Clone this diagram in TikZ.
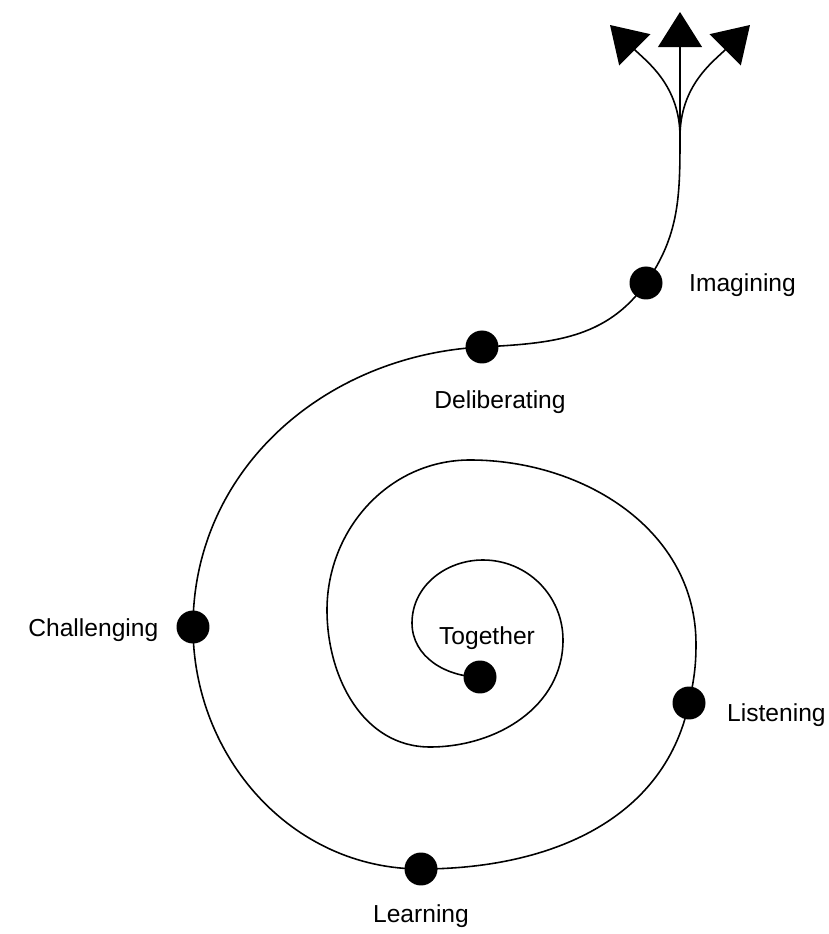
\documentclass[tikz,border=0pt]{standalone}
\usepackage{fontspec}
\setmainfont{Liberation Sans}
\usetikzlibrary{arrows.meta,positioning}
\tikzset{
  dot/.style={circle,fill=black,inner sep=0pt,minimum size=0.66cm},
  lbl/.style={inner sep=0pt,font=\fontsize{14}{16}\selectfont},
  spiral/.style={line width=0.9pt},
  bigtip/.style={-{Triangle[width=25pt,length=20pt]}}
}
\begin{document}
\begin{tikzpicture}[x=0.02cm,y=0.02cm]
  \useasboundingbox (0,0) rectangle (829,934);
  % dots on the spiral
  \node [dot] (together) at (480,257) {};
  \node [dot] (listen) at (689,231) {};
  \node [dot] (learn) at (421,65) {};
  \node [dot] (chall) at (193,307) {};
  \node [dot] (delib) at (482,587) {};
  \node [dot] (imag) at (646,651) {};
  % turning points of the inner rings
  \coordinate (w1) at (412,311);
  \coordinate (w2) at (483,374);
  \coordinate (w3) at (563,294);
  \coordinate (w4) at (430,187);
  \coordinate (w5) at (327,324);
  \coordinate (w6) at (470,474);
  \coordinate (w7) at (696,290);
  \coordinate (fork) at (680,797);
  \coordinate (tipl) at (610,909);
  \coordinate (tipc) at (680,922);
  \coordinate (tipr) at (750,909);
  \draw [spiral] (together.center) to[out=180,in=270] (w1)
    to[out=90,in=180] (w2) to[out=0,in=90] (w3)
    to[out=270,in=0] (w4) to[out=180,in=270] (w5)
    to[out=90,in=180] (w6) to[out=0,in=90] (w7)
    to[out=270,in=78] (listen.center) to[out=258,in=0] (learn.center)
    to[out=180,in=270] (chall.center) to[out=90,in=183] (delib.center)
    to[out=3,in=235] (imag.center) to[out=55,in=270] (fork);
  \draw [spiral,bigtip] (fork) -- (tipc);
  \draw [spiral,bigtip] (fork) to[out=90,in=-45] (tipl);
  \draw [spiral,bigtip] (fork) to[out=90,in=225] (tipr);
  % labels
  \node [lbl,above=0.2cm of together,xshift=0.14cm] (togethertext) {Together};
  \node [lbl,right=0.42cm of listen,yshift=-0.24cm] (listentext) {Listening};
  \node [lbl,below=0.36cm of learn] (learntext) {Learning};
  \node [lbl,left=0.35cm of chall,yshift=-0.06cm] (challtext) {Challenging};
  \node [lbl,below=0.52cm of delib,xshift=0.36cm] (delibtext) {Deliberating};
  \node [lbl,right=0.52cm of imag,yshift=-0.04cm] (imagtext) {Imagining};
\end{tikzpicture}
\end{document}
